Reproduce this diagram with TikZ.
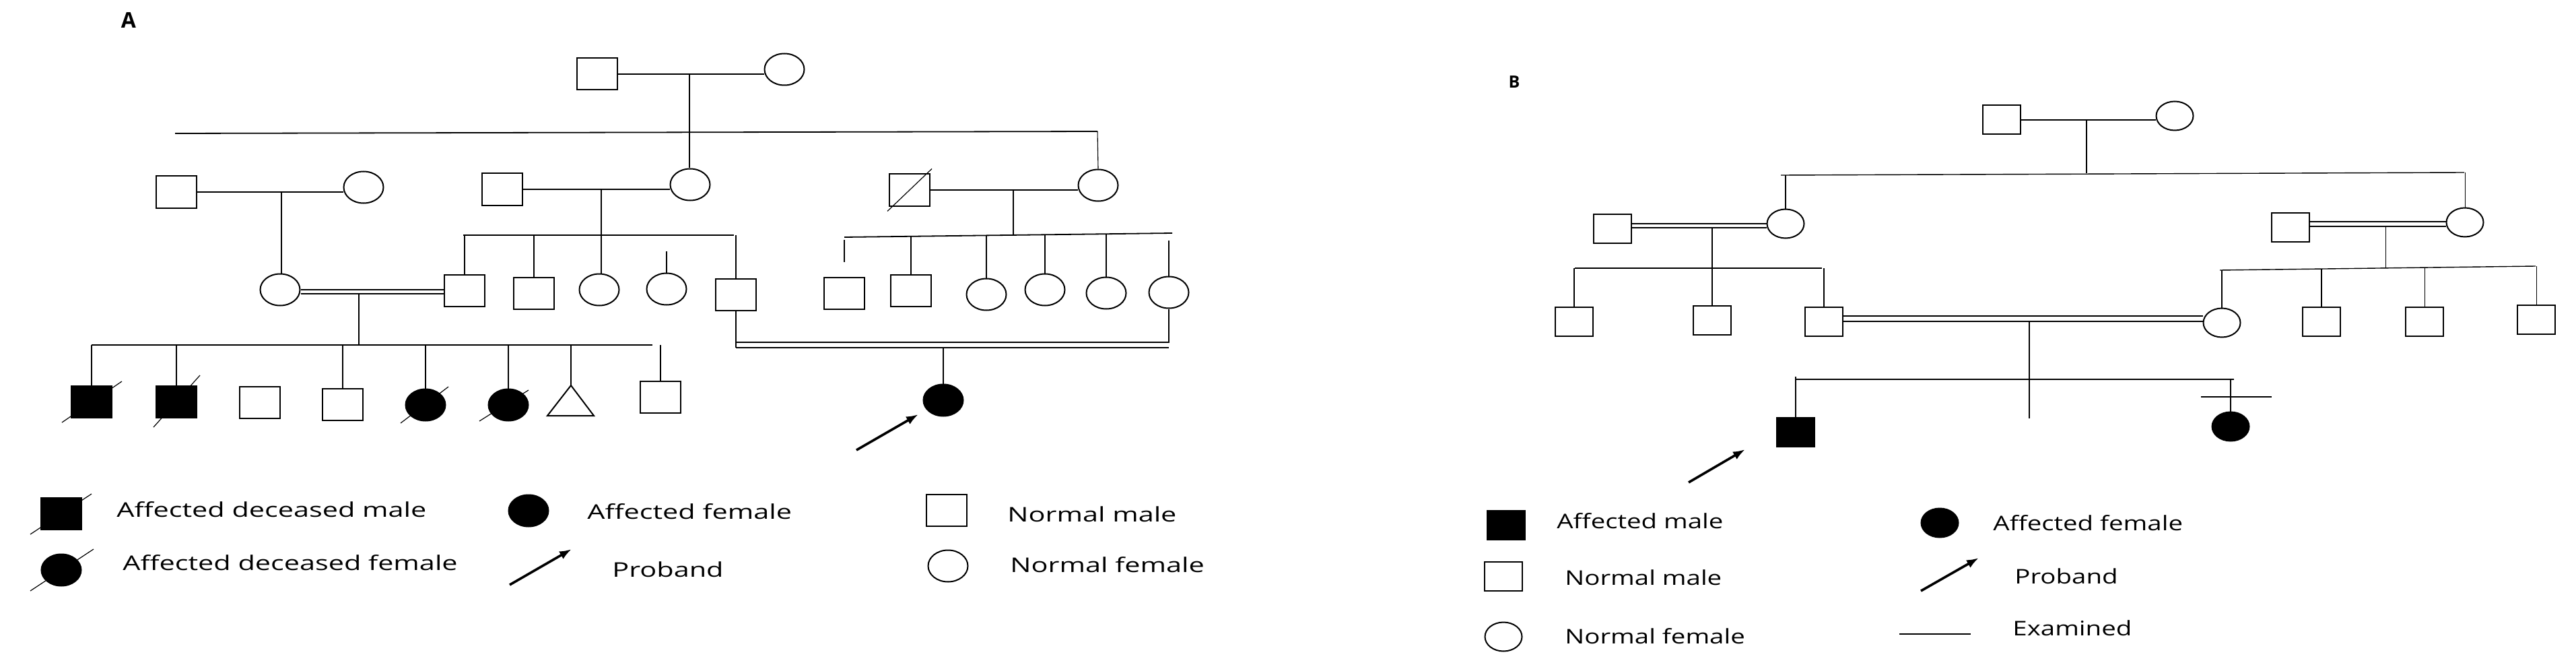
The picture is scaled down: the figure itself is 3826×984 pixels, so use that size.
\documentclass[tikz,border=0pt]{standalone}
\usepackage{fontspec}
\newfontfamily\legA{Open Sans}[FakeStretch=1.38]
\newfontfamily\legB{Open Sans}[FakeStretch=1.28]
\newfontfamily\panelfont{Open Sans}
\usetikzlibrary{shapes.geometric,arrows.meta}
\tikzset{
  ind/.style={draw, line width=1pt, inner sep=0pt},
  maleA/.style={ind, rectangle, minimum width=30pt, minimum height=23.5pt},
  femA/.style={ind, ellipse, minimum width=29.5pt, minimum height=23.5pt},
  maleB/.style={ind, rectangle, minimum width=28pt, minimum height=21.5pt},
  femB/.style={ind, ellipse, minimum width=27.5pt, minimum height=21.5pt},
  aff/.style={fill=black},
  conn/.style={line width=0.55pt},
  sib/.style={line width=0.9pt},
  dead/.style={line width=0.6pt},
  proband/.style={line width=1.8pt, -{Latex[length=9pt,width=6.5pt]}},
  lblA/.style={anchor=base west, inner sep=0pt, font=\legA\fontsize{15pt}{18pt}\selectfont},
  lblB/.style={anchor=base west, inner sep=0pt, font=\legB\fontsize{15pt}{18pt}\selectfont},
}
\begin{document}
\begin{tikzpicture}[x=0.5pt,y=-0.5pt]
\useasboundingbox (0,0) rectangle (3826,984);
\fill[white] (0,0) rectangle (3826,984);

% ================= PANEL A =================
\node[font=\panelfont\bfseries\fontsize{16pt}{18pt}\selectfont, inner sep=0pt] (labA) at (191,30) {A};

% generation I
\node[maleA] (a1m) at (887,110) {};
\node[femA]  (a1f) at (1165,103) {};
% generation II
\node[maleA] (a2m1) at (262,285) {};
\node[femA]  (a2f1) at (540,278) {};
\node[maleA] (a2m2) at (746,281) {};
\node[femA]  (a2f2) at (1025,274) {};
\node[maleA] (a2m3) at (1351,282) {};
\node[femA]  (a2f3) at (1631,275) {};
% generation III
\node[femA]  (a3f1) at (416,430) {};
\node[maleA] (a3m1) at (690,431) {};
\node[maleA] (a3m2) at (793,435) {};
\node[femA]  (a3f2) at (890,430) {};
\node[femA]  (a3f3) at (990,429) {};
\node[maleA] (a3m3) at (1093,437) {};
\node[maleA] (a3m4) at (1254,435) {};
\node[maleA] (a3m5) at (1353,431) {};
\node[femA]  (a3f4) at (1465,437) {};
\node[femA]  (a3f5) at (1552,430) {};
\node[femA]  (a3f6) at (1643,435) {};
\node[femA]  (a3f7) at (1736,434) {};
% generation IV
\node[maleA,aff] (a4m1) at (136,596) {};
\node[maleA,aff] (a4m2) at (262,596) {};
\node[maleA] (a4m3) at (386,597) {};
\node[maleA] (a4m4) at (509,600) {};
\node[femA,aff] (a4f1) at (632,601) {};
\node[femA,aff] (a4f2) at (755,601) {};
\coordinate (a4t) at (848,572);
\draw[line width=1pt] (a4t) -- (882,617) -- (813,617) -- cycle;
\node[maleA] (a4m5) at (981,589) {};
\node[femA,aff] (a4p) at (1401,594) {};

% deceased slashes
\draw[dead] (a2m3.center) ++(-33,31.5) -- ++(66,-63);
\draw[dead] (a4m1.center) ++(-44,31) -- ++(89,-61);
\draw[dead] (a4m2.center) ++(-34,38) -- ++(69,-77);
\draw[dead] (a4f1.center) ++(-37,27) -- ++(71,-54);
\draw[dead] (a4f2.center) ++(-43,24) -- ++(73,-46);

% connectors gen I -> II
\draw[conn] (a1m.east) -- (a1m.east -| a1f.west);
\coordinate (a1d) at (1024,110);
\draw[conn] (a1d) -- (a1d |- a2f2.north);
\coordinate (sA1l) at (260,198);
\coordinate (sA1r) at (1630,195);
\draw[sib] (sA1l) -- (sA1r);
\draw[conn] (sA1r) -- (a2f3.north);

% gen II couples
\draw[conn] (a2m1.east) -- (a2m1.east -| a2f1.west);
\coordinate (a2d1) at (418,285);
\draw[conn] (a2d1) -- (a2d1 |- a3f1.north);

\draw[conn] (a2m2.east) -- (a2m2.east -| a2f2.west);
\coordinate (a2d2) at (893,281);
\draw[conn] (a2d2) -- (a2d2 |- a3f2.north);
\coordinate (sA2l) at (688,349);
\coordinate (sA2r) at (1090,349);
\draw[sib] (sA2l) -- (sA2r);
\draw[conn] (a3m1.north |- sA2l) -- (a3m1.north);
\draw[conn] (a3m2.north |- sA2l) -- (a3m2.north);
\draw[conn] (a3f3.north |- 0,373) -- (a3f3.north);
\draw[conn] (a3m3.north |- sA2l) -- (a3m3.north);

\draw[conn] (a2m3.east) -- (a2m3.east -| a2f3.west);
\coordinate (a2d3) at (1505,282);
\draw[conn] (a2d3) -- (1505,348);
\coordinate (sA3l) at (1254,352);
\coordinate (sA3r) at (1741,346);
\draw[sib] (sA3l) -- (sA3r);
\draw[conn] (a3m4.north |- 0,356) -- (a3m4.north |- 0,389);
\draw[conn] (a3m5.north |- 0,351) -- (a3m5.north);
\draw[conn] (a3f4.north |- 0,349) -- (a3f4.north);
\draw[conn] (a3f5.north |- 0,348) -- (a3f5.north);
\draw[conn] (a3f6.north |- 0,347) -- (a3f6.north);
\draw[conn] (a3f7.north |- 0,357) -- (a3f7.north);

% consanguineous marriage gen III
\draw[conn] (a3f1.east |- 0,430) -- (a3m1.west |- 0,430);
\draw[conn] (a3f1.east |- 0,436) -- (a3m1.west |- 0,436);
\coordinate (a3d1) at (533,436);
\draw[conn] (a3d1) -- (533,512);
\coordinate (sA4l) at (136,512);
\coordinate (sA4r) at (969,512);
\draw[sib] (sA4l) -- (sA4r);
\draw[conn] (a4m1.north |- sA4l) -- (a4m1.north);
\draw[conn] (a4m2.north |- sA4l) -- (a4m2.north);
\draw[conn] (a4m4.north |- sA4l) -- (a4m4.north);
\draw[conn] (a4f1.north |- sA4l) -- (a4f1.north);
\draw[conn] (a4f2.north |- sA4l) -- (a4f2.north);
\draw[conn] (a4t |- sA4l) -- (a4t);
\draw[conn] (a4m5.north |- sA4l) -- (a4m5.north);

% consanguineous marriage -> proband
\draw[conn] (a3m3.south) -- (a3m3.south |- 0,516);
\draw[conn] (a3m3.south |- 0,508) -- (a3f7.south |- 0,508) -- (a3f7.south);
\draw[conn] (a3m3.south |- 0,516) -- (a3f7.south |- 0,516);
\draw[conn] (a4p.north |- 0,516) -- (a4p.north);
\coordinate (arA) at (1272,668);
\coordinate (arAt) at (1364,615);
\draw[proband] (arA) -- (arAt);

% legend A
\node[maleA,aff] (la1) at (91,762) {};
\draw[dead] (la1.center) ++(-46,31) -- ++(91,-60);
\node[lblA] (la1t) at (173,767) {Affected deceased male};
\node[femA,aff] (la2) at (91,846) {};
\draw[dead] (la2.center) ++(-46,31) -- ++(94,-62);
\node[lblA] (la2t) at (182,846) {Affected deceased female};
\node[femA,aff] (la3) at (785,758) {};
\node[lblA] (la3t) at (872,770) {Affected female};
\coordinate (la4a) at (757,868);
\coordinate (la4b) at (849,815);
\draw[proband] (la4a) -- (la4b);
\node[lblA] (la4t) at (909,856) {Proband};
\node[maleA] (la5) at (1406,757) {};
\node[lblA] (la5t) at (1496,774) {Normal male};
\node[femA] (la6) at (1408,840) {};
\node[lblA] (la6t) at (1500,849) {Normal female};

% ================= PANEL B =================
\node[font=\panelfont\bfseries\fontsize{12.5pt}{15pt}\selectfont, inner sep=0pt] (labB) at (2249,122) {B};

\node[maleB] (b1m) at (2973,178) {};
\node[femB]  (b1f) at (3230,172) {};
\node[maleB] (b2m1) at (2395,339) {};
\node[femB]  (b2f1) at (2652,332) {};
\node[maleB] (b2m2) at (3402,337) {};
\node[femB]  (b2f2) at (3661,330) {};
\node[maleB] (b3m1) at (2338,477) {};
\node[maleB] (b3m2) at (2543,475) {};
\node[maleB] (b3m3) at (2709,477) {};
\node[femB]  (b3f1) at (3300,479) {};
\node[maleB] (b3m4) at (3448,477) {};
\node[maleB] (b3m5) at (3601,477) {};
\node[maleB] (b3m6) at (3767,474) {};
\node[maleB,aff] (b4m) at (2667,641) {};
\node[femB,aff]  (b4f) at (3313,633) {};

\draw[sib] (b1m.east) -- (b1m.east -| b1f.west);
\coordinate (b1d) at (3099,178);
\draw[conn] (b1d) -- (3099,257);
\coordinate (sB1l) at (2645,260);
\coordinate (sB1r) at (3660,256);
\draw[line width=0.7pt] (sB1l) -- (sB1r);
\draw[conn] (b2f1.north |- 0,260) -- (b2f1.north);
\draw[conn] (b2f2.north |- sB1r) -- (b2f2.north);

\draw[conn] (b2m1.east |- 0,332) -- (b2f1.west |- 0,332);
\draw[conn] (b2m1.east |- 0,338) -- (b2f1.west |- 0,338);
\coordinate (b2d1) at (2543,338);
\draw[conn] (b2d1) -- (b3m2.north);
\coordinate (sB2l) at (2339,398);
\coordinate (sB2r) at (2706,398);
\draw[sib] (sB2l) -- (sB2r);
\draw[conn] (b3m1.north |- sB2l) -- (b3m1.north);
\draw[conn] (b3m3.north |- sB2l) -- (b3m3.north);

\draw[conn] (b2m2.east |- 0,329) -- (b2f2.west |- 0,329);
\draw[conn] (b2m2.east |- 0,336) -- (b2f2.west |- 0,336);
\coordinate (b2d2) at (3543,336);
\draw[conn] (b2d2) -- (3543,398);
\coordinate (sB3l) at (3297,401);
\coordinate (sB3r) at (3766,395);
\draw[line width=0.7pt] (sB3l) -- (sB3r);
\draw[conn] (b3f1.north |- 0,401) -- (b3f1.north);
\draw[conn] (b3m4.north |- 0,399) -- (b3m4.north);
\draw[conn] (b3m5.north |- 0,397) -- (b3m5.north);
\draw[conn] (b3m6.north |- 0,395) -- (b3m6.north);

\draw[conn] (b3m3.east |- 0,469) -- (b3f1.west |- 0,469);
\draw[conn] (b3m3.east |- 0,477) -- (b3f1.west |- 0,477);
\coordinate (b3d) at (3014,477);
\draw[conn] (b3d) -- (3014,621);
\coordinate (sB4l) at (2667,563);
\coordinate (sB4r) at (3318,563);
\draw[sib] (sB4l) -- (sB4r);
\draw[sib] (b4m.north |- 0,559) -- (b4m.north);
\draw[conn] (b4f.north |- sB4l) -- (b4f.north);
\coordinate (exl) at (3269,589);
\coordinate (exr) at (3374,589);
\draw[line width=1pt] (exl) -- (exr);
\coordinate (arB) at (2508,716);
\coordinate (arBt) at (2592,667);
\draw[proband] (arB) -- (arBt);

% legend B
\node[maleB,aff] (lb1) at (2237,779) {};
\node[lblB] (lb1t) at (2312,784) {Affected male};
\node[femB,aff] (lb2) at (2881,776) {};
\node[lblB] (lb2t) at (2960,787) {Affected female};
\node[maleB] (lb3) at (2233,855) {};
\node[lblB] (lb3t) at (2324,868) {Normal male};
\coordinate (lb4a) at (2853,877);
\coordinate (lb4b) at (2939,828);
\draw[proband] (lb4a) -- (lb4b);
\node[lblB] (lb4t) at (2992,866) {Proband};
\node[femB] (lb5) at (2233,945) {};
\node[lblB] (lb5t) at (2324,955) {Normal female};
\coordinate (lb6a) at (2821,941);
\coordinate (lb6b) at (2927,941);
\draw[conn] (lb6a) -- (lb6b);
\node[lblB] (lb6t) at (2989,943) {Examined};
\end{tikzpicture}
\end{document}
